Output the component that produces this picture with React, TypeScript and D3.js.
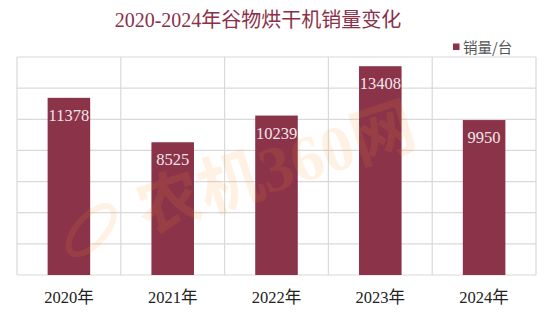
import React from "react";
import * as d3 from "d3";

const categories = ["2020年", "2021年", "2022年", "2023年", "2024年"];
const sales = [11378, 8525, 10239, 13408, 9950];
const yTicks = [0, 2000, 4000, 6000, 8000, 10000, 12000, 14000];
const title = "2020-2024年谷物烘干机销量变化";
const legendLabel = "销量/台";
const watermark = "农机360网";

const W = 554, H = 315;
const M = { left: 17, right: 18, top: 57, bottom: 40 };
const SERIF = "'Liberation Serif', 'Times New Roman', 'Noto Sans CJK SC', serif";
const BAR = "#8A3349";

export default function App() {
  const x = d3.scaleBand<string>().domain(categories).range([M.left, W - M.right]).paddingInner(0).paddingOuter(0);
  const y = d3.scaleLinear().domain([0, 14000]).range([H - M.bottom, M.top]);
  const bw = x.bandwidth() * 0.41;
  const bounds = [...categories.map((c) => x(c)!), x(categories[categories.length - 1])! + x.bandwidth()];
  return (
    <svg width={W} height={H} style={{ position: "absolute", left: 0, top: 0, background: "#fff" }}>
      <text x={258} y={27} textAnchor="middle" fontFamily={SERIF} fontSize={20} fill="#8B3048">{title}</text>
      <rect x={453} y={43.5} width={6.5} height={6.5} fill={BAR} />
      <text x={463} y={53} fontFamily="'Noto Sans CJK SC', sans-serif" fontSize={14.5} fill="#555">{legendLabel}</text>
      <g stroke="#d9d9d9" strokeWidth={1.2}>
        {yTicks.map((t) => (
          <line key={t} x1={M.left} x2={W - M.right} y1={y(t)} y2={y(t)} />
        ))}
        {bounds.map((b, i) => (
          <line key={i} x1={b} x2={b} y1={y(14000)} y2={y(0)} />
        ))}
      </g>
      {categories.map((c, i) => {
        const cx = x(c)! + x.bandwidth() / 2;
        return (
          <g key={c}>
            <rect x={cx - bw / 2} y={y(sales[i])} width={bw} height={y(0) - y(sales[i])} fill={BAR} />
            <text x={cx} y={y(sales[i]) + 23} textAnchor="middle" fontFamily={SERIF} fontSize={16.5} fill="#f3e6ea">{sales[i]}</text>
            <text x={cx} y={303} textAnchor="middle" fontFamily={SERIF} fontSize={16.5} fill="#222">{c}</text>
          </g>
        );
      })}
      <g transform="translate(276,168) rotate(-18)" opacity={0.12}>
        <text x={0} y={22} textAnchor="middle" fontFamily={SERIF} fontWeight="bold" fontSize={64} fill="#ff9a30">{watermark}</text>
        <ellipse cx={-195} cy={2} rx={30} ry={14} fill="none" stroke="#ff9a30" strokeWidth={6} transform="rotate(-30,-195,2)" />
      </g>
    </svg>
  );
}
